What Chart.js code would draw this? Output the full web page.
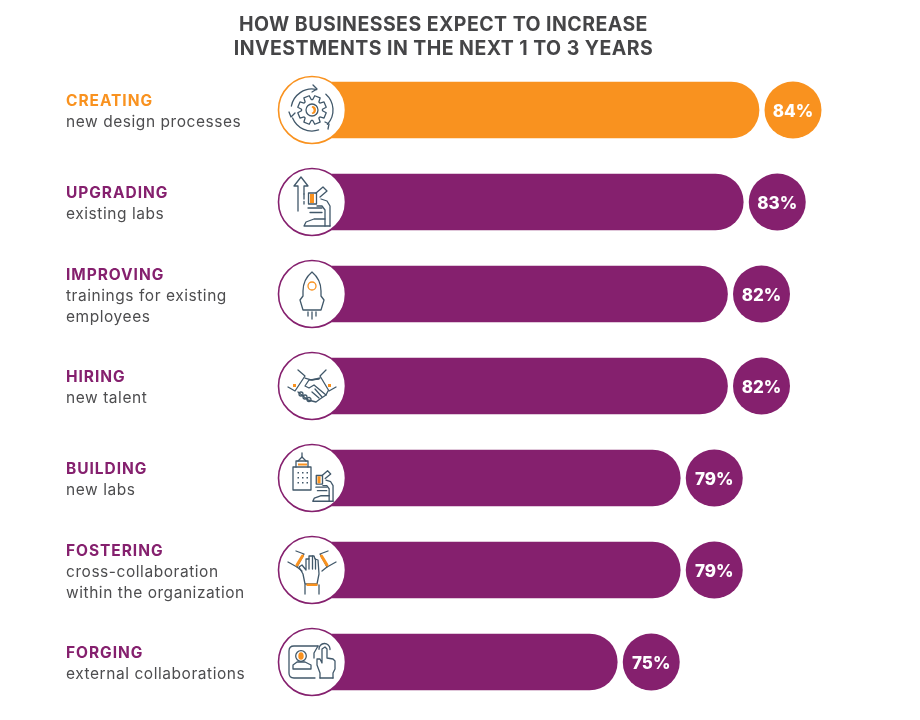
<!DOCTYPE html>
<html><head><meta charset="utf-8">
<style>html,body{margin:0;padding:0;background:#fff}canvas{display:block}</style>
<script src="https://cdn.jsdelivr.net/npm/chart.js@4"></script></head>
<body><canvas id="c" width="920" height="720"></canvas>
<script>
const titleLines = ["HOW BUSINESSES EXPECT TO INCREASE", "INVESTMENTS IN THE NEXT 1 TO 3 YEARS"];
const categories = ["CREATING", "UPGRADING", "IMPROVING", "HIRING", "BUILDING", "FOSTERING", "FORGING"];
const subLabels = [
  ["new design processes"],
  ["existing labs"],
  ["trainings for existing", "employees"],
  ["new talent"],
  ["new labs"],
  ["cross-collaboration", "within the organization"],
  ["external collaborations"]
];
const values = [84, 83, 82, 82, 79, 79, 75];
const ORANGE = "#f9921f", PURPLE = "#85206e", GREY = "#4d4d4f", SLATE = "#41586a";
const barColors = [ORANGE, PURPLE, PURPLE, PURPLE, PURPLE, PURPLE, PURPLE];

function pl(c, pts, close) { c.beginPath(); pts.forEach((p, i) => i ? c.lineTo(p[0], p[1]) : c.moveTo(p[0], p[1])); if (close) c.closePath(); c.stroke(); }
function oRect(c, x, y, w, h) { c.save(); c.fillStyle = ORANGE; c.fillRect(x, y, w, h); c.restore(); }
function arcS(c, x, y, r, a, b) { c.beginPath(); c.arc(x, y, r, a, b); c.stroke(); }
function microscope(c) {
  pl(c, [[4, -9], [11, -15], [15, -11], [8, -5]]);
  c.strokeRect(-3.5, -9, 8, 11);
  oRect(c, -2, -8, 4, 9);
  pl(c, [[9, -3], [15, -1], [18, 4], [18, 24]]);
  pl(c, [[13, 24], [13, 8], [10, 4], [5, 4]]);
  pl(c, [[-4, 6], [10, 6]]);
  pl(c, [[-2, 10.5], [10, 10.5]]);
  pl(c, [[13, 17], [2, 17], [-6, 20], [-8, 24], [18, 24]]);
}
const icons = [
  c => { // gear
    c.beginPath();
    for (let i = 0; i < 8; i++) {
      const a = i * Math.PI / 4 - Math.PI / 8;
      [[10.5, -0.32], [14.5, -0.2], [14.5, 0.2], [10.5, 0.32]].forEach(p => {
        const t = a + p[1];
        c.lineTo(p[0] * Math.cos(t), p[0] * Math.sin(t));
      });
    }
    c.closePath(); c.stroke();
    arcS(c, 0, 0, 6, 0, 7);
    c.save(); c.fillStyle = ORANGE; c.beginPath(); c.arc(0, 0, 4, -1.5, 1.5); c.arc(-1.5, 0, 3, 1.2, -1.2, true); c.closePath(); c.fill(); c.restore();
    [[-2.95, -1.35], [-0.85, 0.75], [1.25, 2.75]].forEach(([a, b]) => {
      arcS(c, 0, 0, 21, a, b);
    });
    pl(c, [[-23, 2], [-21, 7], [-17, 3]]);
    pl(c, [[1, -25], [5, -21], [0, -18]]);
    pl(c, [[13, 12], [17, 14], [16, 19]]);
  },
  c => { // arrow + microscope
    pl(c, [[-14, 9], [-14, -16], [-18, -16], [-11, -25], [-4, -16], [-8, -16], [-8, -8]]);
    c.setLineDash([5, 2.5]); pl(c, [[-8, -8], [-8, 2]]); c.setLineDash([]);
    microscope(c);
  },
  c => { // rocket
    c.beginPath();
    c.moveTo(0, -22); c.bezierCurveTo(6, -17, 9, -10, 9, -3); c.lineTo(9, 2); c.lineTo(12, 6); c.lineTo(9, 16); c.lineTo(-9, 16); c.lineTo(-12, 6); c.lineTo(-9, 2); c.lineTo(-9, -3); c.bezierCurveTo(-9, -10, -6, -17, 0, -22); c.closePath(); c.stroke();
    pl(c, [[0, 18], [0, 25]]); pl(c, [[-4, 18], [-4, 22]]); pl(c, [[4, 18], [4, 22]]);
    c.save(); c.strokeStyle = ORANGE; arcS(c, 0, -8, 4, 0, 7); c.restore();
  },
  c => { // handshake
    pl(c, [[-24, 1], [-17, 5], [-7, -10], [-14, -16]]);
    pl(c, [[24, 1], [17, 5], [8, -10], [14, -16]]);
    pl(c, [[-7, -8], [0, -6], [8, -8]]);
    pl(c, [[7, -7], [-3, -6], [-7, 0], [-3, 2], [2, -1], [14, 9]]);
    pl(c, [[-14, 6], [-4, 14], [4, 16], [8, 13], [14, 9], [16, 5]]);
    pl(c, [[3, 3], [10, 11]]); pl(c, [[0, 6], [7, 12]]);
    [[-11, 8], [-7, 11], [-3, 13.5]].forEach(p => arcS(c, p[0], p[1], 2, 0, 7));
    oRect(c, -19, -2, 3, 3); oRect(c, 16, -2, 3, 3);
  },
  c => { // building + microscope
    c.strokeRect(-19, -11, 18, 23);
    pl(c, [[-16, -11], [-16, -17], [-4, -17], [-4, -11]]);
    pl(c, [[-14, -17], [-10, -21], [-6, -17]]); pl(c, [[-10, -21], [-10, -25]]);
    oRect(c, -14, -14.5, 9, 2);
    c.save(); c.fillStyle = SLATE;
    for (let i = 0; i < 3; i++) for (let j = 0; j < 3; j++) c.fillRect(-14.5 + i * 4.5, -6 + j * 5, 1.5, 1.5);
    c.restore();
    c.save(); c.translate(7, 4.5); c.scale(0.78, 0.78); c.lineWidth = 1.7; microscope(c); c.restore();
  },
  c => { // hands
    pl(c, [[-7, 14], [-9, 4], [-13, -3], [-10, -5], [-6, 0], [-6, -11], [-3, -11], [-3, -14], [2, -14], [3, -11], [6, -10], [7, 4], [5, 14]], true);
    pl(c, [[-3, -11], [-3, -1]]); pl(c, [[0.5, -14], [0.5, -1]]); pl(c, [[3.5, -11], [3.5, -1]]);
    pl(c, [[-7, 15], [-7, 24]]); pl(c, [[7, 15], [7, 24]]);
    oRect(c, -5.5, 13.5, 11, 2.5);
    pl(c, [[-16, -19], [-8, -16], [-15, -3], [-24, -8]]);
    pl(c, [[16, -19], [8, -16], [15, -3], [24, -8]]);
    pl(c, [[-15, -3], [-10, 1]]); pl(c, [[15, -3], [10, 1]]);
    c.save(); c.strokeStyle = ORANGE; c.lineWidth = 3; pl(c, [[-9.5, -14], [-15, -5]]); pl(c, [[9.5, -14], [15, -5]]); c.restore();
  },
  c => { // profile card + pointing hand
    c.beginPath(); c.moveTo(6, -16); c.lineTo(-18, -16); c.quadraticCurveTo(-23, -16, -23, -11); c.lineTo(-23, 11); c.quadraticCurveTo(-23, 16, -18, 16); c.lineTo(3, 16); c.stroke();
    pl(c, [[6, -16], [2, -9], [2, -4]]);
    arcS(c, -11, -6, 5.3, 0, 7);
    c.save(); c.fillStyle = ORANGE; c.beginPath(); c.ellipse(-11, -6, 2.7, 3.8, 0, 0, 7); c.fill(); c.restore();
    pl(c, [[-19, 7], [-1, 7], [-1, 3], [-7, 0], [-15, 0], [-19, 3]], true);
    pl(c, [[8, 16], [8, 11], [5, 3], [5, -3], [8, -3], [10, 1], [10, -13], [13, -15], [15, -13], [15, -4], [21, -3], [23, -1], [23, 7], [21, 11], [21, 16]]);
    pl(c, [[8, 16], [21, 16]]);
    arcS(c, 12.5, -13, 5.5, 3.1, 0.1);
  }
];

const overlay = {
  id: "overlay",
  afterDatasetsDraw(chart) {
    const c = chart.ctx, y = chart.scales.y, bars = chart.getDatasetMeta(0).data;
    c.save();
    c.textBaseline = "alphabetic";
    c.fillStyle = "#454547"; c.textAlign = "center"; c.font = "700 19.5px Inter"; c.letterSpacing = "0.45px";
    titleLines.forEach((t, i) => c.fillText(t, 443.5, 31 + i * 24));
    c.textAlign = "left";
    categories.forEach((cat, i) => {
      const cy = y.getPixelForValue(i), subs = subLabels[i];
      const total = subs.length + 1, top = cy - (total - 1) * 10.5;
      c.fillStyle = barColors[i]; c.font = "700 15.5px Inter"; c.letterSpacing = "0.95px";
      c.fillText(cat, 66, top + 6.5);
      c.fillStyle = GREY; c.font = "400 15.5px Inter"; c.letterSpacing = "0.55px";
      subs.forEach((s, j) => c.fillText(s, 66, top + 6.5 + (j + 1) * 21));
      const bx = bars[i].x + 34;
      c.fillStyle = barColors[i]; c.beginPath(); c.arc(bx, cy, 28.5, 0, 7); c.fill();
      c.fillStyle = "#fff"; c.textAlign = "center"; c.font = "800 17px Inter"; c.letterSpacing = "0px";
      c.fillText(values[i] + "%", bx, cy + 6.5);
      c.textAlign = "left";
      const ix = 312;
      c.fillStyle = "#fff"; c.strokeStyle = barColors[i]; c.lineWidth = 1.6;
      c.beginPath(); c.arc(ix, cy, 33.5, 0, 7); c.fill(); c.stroke();
      c.save(); c.translate(ix, cy); c.strokeStyle = SLATE; c.lineWidth = 1.3; c.lineJoin = "round"; c.lineCap = "round";
      icons[i](c); c.restore();
    });
    c.restore();
  }
};

new Chart(document.getElementById("c"), {
  type: "bar",
  data: { labels: categories, datasets: [{ data: values, backgroundColor: barColors, barThickness: 56, borderRadius: 28, borderSkipped: false }] },
  options: {
    indexAxis: "y", responsive: false, animation: false, events: [],
    layout: { padding: { left: 318, right: 66.5, top: 64, bottom: 12 } },
    plugins: { legend: { display: false }, tooltip: { enabled: false }, title: { display: false } },
    scales: {
      x: { display: false, min: 56, max: 90, grid: { display: false } },
      y: { display: false, grid: { display: false } }
    }
  },
  plugins: [overlay]
});
</script></body></html>
